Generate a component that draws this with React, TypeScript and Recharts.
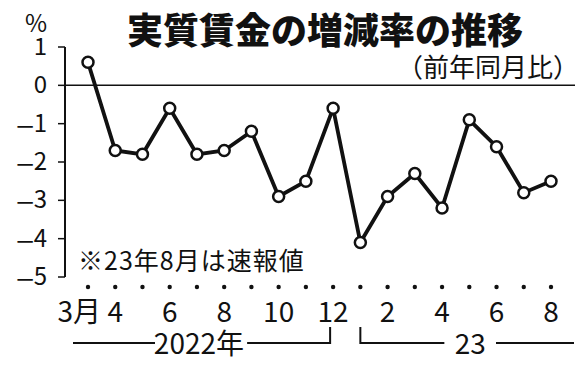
import { LineChart, Line, XAxis, YAxis, ReferenceLine } from "recharts";

const monthKeys = [
  "2022-03", "2022-04", "2022-05", "2022-06", "2022-07", "2022-08",
  "2022-09", "2022-10", "2022-11", "2022-12", "2023-01", "2023-02",
  "2023-03", "2023-04", "2023-05", "2023-06", "2023-07", "2023-08",
];
const realWageChange = [
  0.6, -1.7, -1.8, -0.6, -1.8, -1.7, -1.2, -2.9, -2.5, -0.6, -4.1, -2.9,
  -2.3, -3.2, -0.9, -1.6, -2.8, -2.5,
];
const monthLabels = [
  "3月", "4", "", "6", "", "8", "", "10", "", "12", "", "2", "", "4", "", "6", "", "8",
];
const yTicks = [1, 0, -1, -2, -3, -4, -5];

const chartData = monthKeys.map((month, i) => ({
  month,
  value: realWageChange[i],
}));

const FONT = "'Noto Sans CJK JP', 'Noto Sans', sans-serif";

function YTick(props: any) {
  const { x, y, payload } = props;
  const v = payload.value as number;
  return (
    <text
      x={x}
      y={y + 8}
      textAnchor="end"
      fontFamily={FONT}
      fontSize={24}
      fill="#111"
    >
      {v < 0 && (
        <tspan fontSize={19} fontWeight={700} dx={0}>
          —
        </tspan>
      )}
      <tspan>{Math.abs(v)}</tspan>
    </text>
  );
}

function MonthTick(props: any) {
  const { x, y, index } = props;
  const label = monthLabels[index];
  const lineY = y + 66;
  return (
    <g>
      <circle cx={x} cy={y + 10} r={2.2} fill="#111" />
      {label && (
        <text
          x={index === 0 ? x + 13 : x}
          y={y + 45}
          textAnchor={index === 0 ? "end" : "middle"}
          fontFamily={FONT}
          fontSize={28}
          fill="#111"
        >
          {label}
        </text>
      )}
      {index === 0 && (
        <line x1={x - 15} x2={x + 67} y1={lineY} y2={lineY} stroke="#111" strokeWidth={2} />
      )}
      {index === 4 && (
        <text x={x + 2} y={y + 77} textAnchor="middle" fontFamily={FONT} fontSize={28} fill="#111">
          2022年
        </text>
      )}
      {index === 9 && (
        <path
          d={`M${x - 86},${lineY} H${x - 3} V${y + 50}`}
          fill="none"
          stroke="#111"
          strokeWidth={2}
        />
      )}
      {index === 10 && (
        <path
          d={`M${x},${y + 50} V${lineY} H${x + 84}`}
          fill="none"
          stroke="#111"
          strokeWidth={2}
        />
      )}
      {index === 14 && (
        <text x={x + 1} y={y + 77} textAnchor="middle" fontFamily={FONT} fontSize={28} fill="#111">
          23
        </text>
      )}
      {index === 17 && (
        <line x1={x - 55} x2={x + 23} y1={lineY} y2={lineY} stroke="#111" strokeWidth={2} />
      )}
    </g>
  );
}

export default function App() {
  return (
    <div
      style={{
        position: "absolute",
        left: 0,
        top: 0,
        width: 585,
        height: 366,
        background: "#fff",
      }}
    >
      <svg
        width={585}
        height={366}
        style={{ position: "absolute", left: 0, top: 0 }}
      >
        <text x={25} y={32} fontFamily={FONT} fontSize={24} fill="#111">
          %
        </text>
        <text
          x={325}
          y={44}
          textAnchor="middle"
          fontFamily={FONT}
          fontSize={36}
          fontWeight={900}
          fill="#111"
        >
          実質賃金の増減率の推移
        </text>
        <text
          x={579}
          y={77}
          textAnchor="end"
          fontFamily={FONT}
          fontSize={26}
          fill="#111"
        >
          （前年同月比）
        </text>
        <text
          x={78}
          y={270}
          fontFamily={FONT}
          fontSize={25}
          letterSpacing={1}
          fill="#111"
        >
          ※23年8月は速報値
        </text>
      </svg>
      <div style={{ position: "absolute", left: 0, top: 0 }}>
        <LineChart
          width={585}
          height={366}
          data={chartData}
          margin={{ top: 47, right: 10, bottom: 0, left: 0 }}
        >
          <XAxis
            dataKey="month"
            interval={0}
            axisLine={false}
            tickLine={false}
            tickSize={0}
            tickMargin={0}
            height={89}
            padding={{ left: 23, right: 24 }}
            tick={<MonthTick />}
          />
          <YAxis
            domain={[-5, 1]}
            ticks={yTicks}
            interval={0}
            width={65}
            axisLine={{ stroke: "#111", strokeWidth: 2 }}
            tickLine={{ stroke: "#111", strokeWidth: 1.5 }}
            tickSize={7}
            tickMargin={11}
            tick={<YTick />}
          />
          <ReferenceLine y={0} stroke="#111" strokeWidth={1.5} />
          <Line
            type="linear"
            dataKey="value"
            stroke="#111"
            strokeWidth={3.8}
            dot={{ r: 5.5, fill: "#fff", stroke: "#111", strokeWidth: 2.5 }}
            isAnimationActive={false}
          />
        </LineChart>
      </div>
    </div>
  );
}
